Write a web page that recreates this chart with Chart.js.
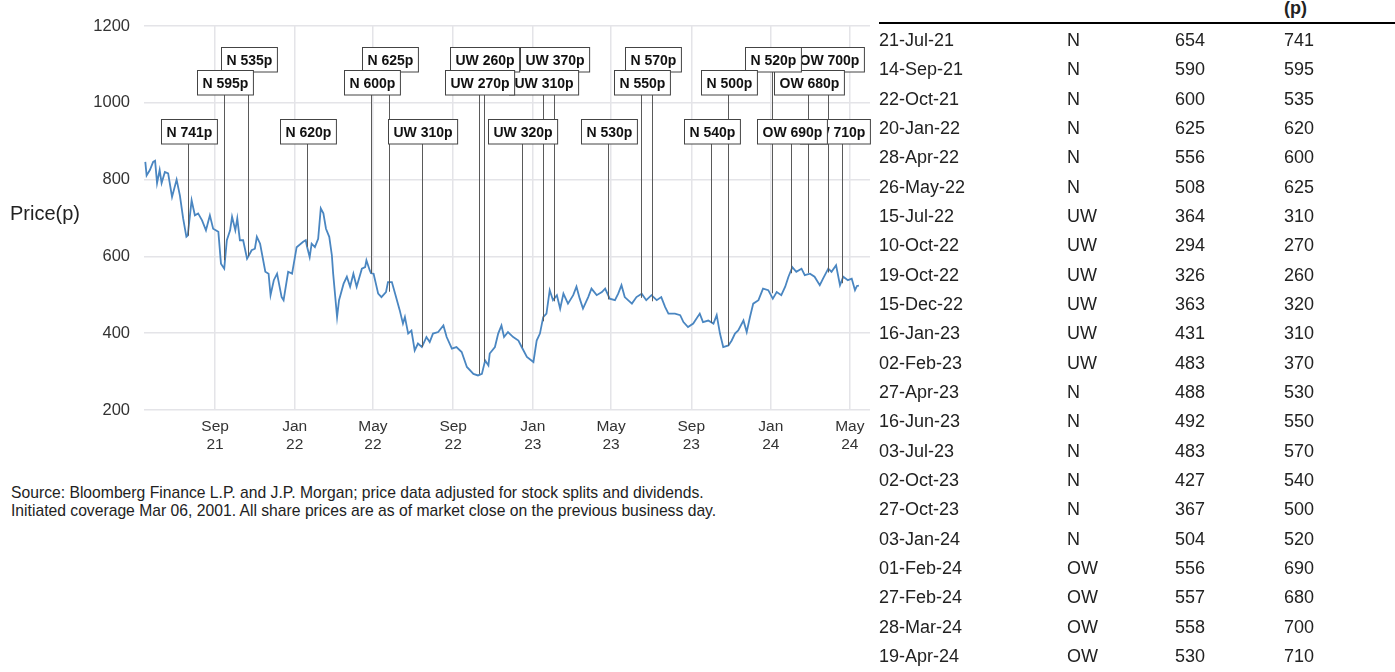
<!DOCTYPE html>
<html>
<head>
<meta charset="utf-8">
<script src="https://cdn.jsdelivr.net/npm/chart.js@4.4.1/dist/chart.umd.min.js"></script>
<style>
  html, body { margin: 0; padding: 0; background: #fff; }
  body { width: 1395px; height: 672px; position: relative; overflow: hidden; font-family: "Liberation Sans", Arial, sans-serif; color: #222; }
  #chartWrap { position: absolute; left: 0; top: 0; width: 880px; height: 470px; }
  #yTitle { position: absolute; left: 10px; top: 200px; font-size: 20px; line-height: 26px; color: #222; }
  #note { position: absolute; left: 11px; top: 484px; font-size: 15.7px; line-height: 18px; color: #222; }
  #rule { position: absolute; left: 879px; top: 22px; width: 516px; height: 2px; background: #000; }
  #hdr { position: absolute; left: 1284px; top: -5px; font-size: 18px; font-weight: bold; line-height: 26px; }
  #tbl { position: absolute; left: 879px; top: 26px; width: 516px; }
  .row { position: relative; height: 29.33px; line-height: 29.33px; font-size: 18px; }
  .row span { position: absolute; top: 0; white-space: nowrap; }
</style>
</head>
<body>
<div id="chartWrap"><canvas id="c" width="880" height="470"></canvas></div>
<div id="yTitle">Price(p)</div>
<div id="note">Source: Bloomberg Finance L.P. and J.P. Morgan; price data adjusted for stock splits and dividends.<br>Initiated coverage Mar 06, 2001. All share prices are as of market close on the previous business day.</div>
<div id="hdr">(p)</div>
<div id="rule"></div>
<div id="tbl"></div>
<script>
// ---------- DATA ----------
const priceDates = [
"2021-05-17","2021-05-19","2021-05-24","2021-05-29","2021-06-01","2021-06-04","2021-06-08","2021-06-11","2021-06-16","2021-06-21",
"2021-06-27","2021-07-04","2021-07-09","2021-07-14","2021-07-19","2021-07-21","2021-07-27","2021-08-01","2021-08-06","2021-08-12",
"2021-08-18","2021-08-24","2021-08-29","2021-09-06","2021-09-10","2021-09-15","2021-09-19","2021-09-24","2021-09-27","2021-10-02",
"2021-10-05","2021-10-09","2021-10-14","2021-10-20","2021-10-22","2021-10-27","2021-11-01","2021-11-04","2021-11-09","2021-11-17",
"2021-11-22","2021-11-25","2021-11-30","2021-12-05","2021-12-12","2021-12-15","2021-12-22","2021-12-28","2022-01-04","2022-01-14",
"2022-01-18","2022-01-20","2022-01-24","2022-01-27","2022-02-01","2022-02-06","2022-02-10","2022-02-14","2022-02-18","2022-02-23",
"2022-02-27","2022-03-01","2022-03-07","2022-03-10","2022-03-17","2022-03-22","2022-03-27","2022-04-01","2022-04-06","2022-04-14",
"2022-04-19","2022-04-21","2022-04-26","2022-04-28","2022-05-02","2022-05-09","2022-05-14","2022-05-21","2022-05-24","2022-05-30",
"2022-06-04","2022-06-11","2022-06-16","2022-06-19","2022-06-24","2022-06-29","2022-07-04","2022-07-09","2022-07-15","2022-07-22",
"2022-07-27","2022-08-01","2022-08-09","2022-08-17","2022-08-22","2022-08-30","2022-09-06","2022-09-14","2022-09-22","2022-10-02",
"2022-10-09","2022-10-15","2022-10-20","2022-10-25","2022-10-27","2022-11-04","2022-11-09","2022-11-14","2022-11-18","2022-11-24",
"2022-12-02","2022-12-10","2022-12-15","2022-12-23","2023-01-02","2023-01-07","2023-01-12","2023-01-17","2023-01-22","2023-01-27",
"2023-02-01","2023-02-07","2023-02-12","2023-02-17","2023-02-24","2023-03-04","2023-03-09","2023-03-14","2023-03-19","2023-03-27",
"2023-04-01","2023-04-09","2023-04-17","2023-04-22","2023-04-29","2023-05-07","2023-05-12","2023-05-17","2023-05-22","2023-06-02",
"2023-06-09","2023-06-17","2023-06-24","2023-07-02","2023-07-10","2023-07-17","2023-07-23","2023-07-28","2023-08-07","2023-08-15",
"2023-08-20","2023-08-27","2023-09-04","2023-09-14","2023-09-19","2023-09-27","2023-10-05","2023-10-10","2023-10-15","2023-10-20",
"2023-10-28","2023-11-02","2023-11-07","2023-11-12","2023-11-20","2023-11-25","2023-11-30","2023-12-05","2023-12-13","2023-12-20",
"2023-12-28","2024-01-04","2024-01-10","2024-01-17","2024-01-23","2024-01-28","2024-02-03","2024-02-09","2024-02-17","2024-02-22",
"2024-03-01","2024-03-08","2024-03-16","2024-03-21","2024-03-29","2024-04-03","2024-04-10","2024-04-16","2024-04-21","2024-04-28",
"2024-05-04","2024-05-09","2024-05-12","2024-05-15"
];
const priceValues = [
846,811,825,846,849,791,825,791,820,816,
755,800,759,699,651,654,746,707,712,694,
668,707,672,664,581,568,642,668,703,668,
699,642,642,594,600,616,620,651,633,560,
555,499,538,555,494,486,560,555,624,638,
642,625,598,633,624,646,725,712,672,651,
603,555,442,486,529,547,521,555,521,568,
572,590,564,556,555,503,494,507,533,533,
503,460,425,442,399,407,355,373,364,390,
377,399,403,420,390,360,364,351,312,294,
290,294,329,316,347,364,399,420,390,403,
390,381,364,338,325,381,399,442,451,512,
486,499,464,503,477,499,521,490,464,494,
516,499,507,516,490,486,503,525,494,477,
494,503,486,499,486,494,468,451,451,447,
429,416,425,451,429,433,425,447,399,364,
368,381,399,407,433,403,442,477,486,516,
512,490,507,499,521,547,572,560,568,551,
555,547,525,542,568,560,577,525,547,538,
542,512,523,524
];

const ratingDates   = ["21-Jul-21","14-Sep-21","22-Oct-21","20-Jan-22","28-Apr-22","26-May-22","15-Jul-22","10-Oct-22","19-Oct-22","15-Dec-22","16-Jan-23","02-Feb-23","27-Apr-23","16-Jun-23","03-Jul-23","02-Oct-23","27-Oct-23","03-Jan-24","01-Feb-24","27-Feb-24","28-Mar-24","19-Apr-24"];
const ratingCodes   = ["N","N","N","N","N","N","UW","UW","UW","UW","UW","UW","N","N","N","N","N","N","OW","OW","OW","OW"];
const ratingPrices  = [654,590,600,625,556,508,364,294,326,363,431,483,488,492,483,427,367,504,556,557,558,530];
const ratingTargets = [741,595,535,620,600,625,310,270,260,320,310,370,530,550,570,540,500,520,690,680,700,710];

const tickDates  = ["2021-09-01","2022-01-01","2022-05-01","2022-09-01","2023-01-01","2023-05-01","2023-09-01","2024-01-01","2024-05-01"];
const tickLabels = [["Sep","21"],["Jan","22"],["May","22"],["Sep","22"],["Jan","23"],["May","23"],["Sep","23"],["Jan","24"],["May","24"]];

const yTicks = [200,400,600,800,1000,1200];
const xRange = ["2021-05-15","2024-06-01"];

// ---------- HELPERS ----------
const MON = {Jan:0,Feb:1,Mar:2,Apr:3,May:4,Jun:5,Jul:6,Aug:7,Sep:8,Oct:9,Nov:10,Dec:11};
function isoDay(s){ const p=s.split("-").map(Number); return Date.UTC(p[0],p[1]-1,p[2])/86400000; }
function dmyDay(s){ const p=s.split("-"); return Date.UTC(2000+Number(p[2]),MON[p[1]],Number(p[0]))/86400000; }

const FONT = '"Liberation Sans", Arial, sans-serif';
const tickDays = tickDates.map(isoDay);

// ---------- TABLE ----------
const tbl = document.getElementById('tbl');
ratingDates.forEach((d,i)=>{
  const r = document.createElement('div'); r.className='row';
  [[d,0],[ratingCodes[i],188],[String(ratingPrices[i]),296],[String(ratingTargets[i]),405]].forEach(([t,l])=>{
    const s=document.createElement('span'); s.textContent=t; s.style.left=l+'px'; r.appendChild(s);
  });
  tbl.appendChild(r);
});

// ---------- ANNOTATION PLUGIN ----------
const ratingPlugin = {
  id:'ratings',
  afterDatasetsDraw(chart){
    const {ctx, scales:{x,y}, chartArea} = chart;
    const boxTops = [chartArea.top+93, chartArea.top+44, chartArea.top+21];
    const boxH = 24.5;
    ctx.save();
    ctx.font = 'bold 14px ' + FONT;
    const items = ratingDates.map((d,i)=>{
      const px = Math.round(x.getPixelForValue(dmyDay(d)))+0.5;
      const label = ratingCodes[i]+' '+ratingTargets[i]+'p';
      const w = ctx.measureText(label).width + 10;
      const top = boxTops[i%3];
      let bx = px - w/2;
      if (bx + w > chartArea.right) bx = chartArea.right - w;
      return {px, bx, label, w, top, yb: y.getPixelForValue(ratingPrices[i])};
    });
    ctx.strokeStyle = '#5a5a5a'; ctx.lineWidth = 1;
    items.forEach(it=>{
      ctx.beginPath(); ctx.moveTo(it.px, it.top+boxH); ctx.lineTo(it.px, it.yb); ctx.stroke();
    });
    for (let i=items.length-1;i>=0;i--){
      const it = items[i];
      const bx = Math.round(it.bx)+0.5, by = Math.round(it.top)+0.5;
      ctx.fillStyle='#fff'; ctx.fillRect(bx,by,it.w,boxH);
      ctx.strokeStyle='#444'; ctx.strokeRect(bx,by,it.w,boxH);
      ctx.fillStyle='#111'; ctx.textAlign='center'; ctx.textBaseline='middle';
      ctx.fillText(it.label, bx + it.w/2, by+boxH/2+1);
    }
    ctx.restore();
  }
};

// ---------- CHART ----------
new Chart(document.getElementById('c'), {
  type:'line',
  data:{ datasets:[{
    data: priceDates.map((d,i)=>({x:isoDay(d), y:priceValues[i]})),
    borderColor:'#4a86c1', borderWidth:1.8, pointRadius:0, tension:0, fill:false
  }]},
  options:{
    responsive:false, animation:false, devicePixelRatio:1,
    layout:{ padding:{ top:26, right:10, left:0, bottom:0 } },
    plugins:{ legend:{display:false}, tooltip:{enabled:false} },
    scales:{
      x:{
        type:'linear', min: isoDay(xRange[0]), max: isoDay(xRange[1]),
        afterBuildTicks(s){ s.ticks = tickDays.map(v=>({value:v})); },
        afterFit(s){ s.height = 60; },
        grid:{ color:'#e4e4e8', lineWidth:1.5, drawTicks:false },
        border:{ display:false },
        ticks:{ autoSkip:false, maxRotation:0, padding:8, color:'#333',
          font:{ family:FONT, size:15.5, lineHeight:1.17 },
          callback(v, i){ return tickLabels[i]; } }
      },
      y:{
        min:200, max:1200,
        afterBuildTicks(s){ s.ticks = yTicks.map(v=>({value:v})); },
        afterFit(s){ s.width = 144; },
        grid:{ color:'#e4e4e8', lineWidth:1.5, drawTicks:false },
        border:{ display:false },
        ticks:{ padding:14, color:'#333', font:{ family:FONT, size:16.5 },
          callback(v){ return String(v); } }
      }
    }
  },
  plugins:[ratingPlugin]
});
</script>
</body>
</html>
